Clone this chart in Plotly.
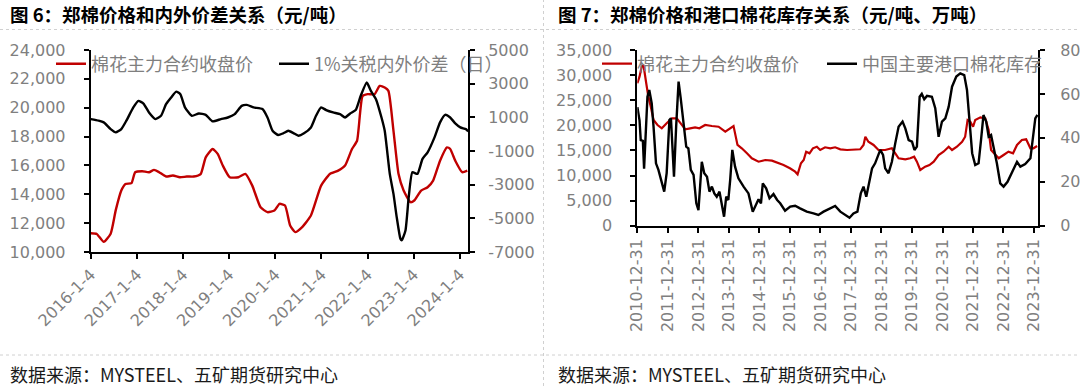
import plotly.graph_objects as go
import pandas as pd

# ---------------- 图6 data ----------------
price_years_6 = [2016.01, 2016.14, 2016.29, 2016.44, 2016.55, 2016.67, 2016.76, 2016.89, 2016.97, 2017.12,
                 2017.27, 2017.38, 2017.49, 2017.64, 2017.79, 2017.94, 2018.09, 2018.24, 2018.39, 2018.50,
                 2018.65, 2018.76, 2018.87, 2019.02, 2019.21, 2019.36, 2019.51, 2019.69, 2019.84, 2019.99,
                 2020.10, 2020.22, 2020.33, 2020.44, 2020.59, 2020.78, 2021.00, 2021.19, 2021.37, 2021.52,
                 2021.67, 2021.78, 2021.90, 2022.01, 2022.16, 2022.27, 2022.38, 2022.46, 2022.57, 2022.68,
                 2022.79, 2022.94, 2023.02, 2023.17, 2023.31, 2023.43, 2023.58, 2023.73, 2023.80, 2023.91,
                 2024.06, 2024.17]
price_6 = [11300, 11250, 10700, 11270, 12900, 14260, 14720, 14770, 15530, 15600,
           15530, 15690, 15530, 15230, 15300, 15180, 15230, 15230, 15400, 16560,
           17140, 16800, 15990, 15180, 15180, 15410, 14600, 13100, 12760, 12870,
           13340, 13220, 11840, 11380, 11730, 12530, 14600, 15410, 15640, 15990,
           17140, 17710, 20820, 20940, 20940, 21510, 21400, 21170, 18400, 15400,
           14260, 13450, 13570, 14260, 14490, 14950, 16330, 17250, 17140, 16330,
           15530, 15640]
spread_years_6 = [2016.01, 2016.18, 2016.29, 2016.44, 2016.55, 2016.67, 2016.78, 2016.93, 2017.04, 2017.15,
                  2017.27, 2017.41, 2017.53, 2017.64, 2017.75, 2017.86, 2017.95, 2018.05, 2018.20, 2018.35,
                  2018.50, 2018.65, 2018.83, 2018.98, 2019.13, 2019.28, 2019.39, 2019.54, 2019.73, 2019.84,
                  2019.95, 2020.07, 2020.18, 2020.29, 2020.40, 2020.51, 2020.63, 2020.78, 2020.89, 2021.00,
                  2021.11, 2021.26, 2021.41, 2021.52, 2021.63, 2021.75, 2021.86, 2021.99, 2022.08, 2022.19,
                  2022.31, 2022.38, 2022.49, 2022.57, 2022.64, 2022.72, 2022.75, 2022.83, 2022.90, 2022.98,
                  2023.09, 2023.20, 2023.31, 2023.46, 2023.58, 2023.69, 2023.80, 2023.91, 2024.02, 2024.14,
                  2024.19]
spread_6 = [895, 800, 700, 300, 105, 300, 800, 1590, 1980, 1820,
            1290, 895, 1090, 1780, 2180, 2530, 2370, 1590, 1090, 1230,
            1150, 760, 895, 990, 1190, 1680, 1740, 1590, 1490, 990,
            200, -50, 50, 200, 65, -90, 50, 400, 1090, 1590,
            1430, 1290, 1190, 990, 1230, 1430, 2280, 3070, 2570, 2080,
            990, 200, -2360, -3550, -4930, -6210, -6310, -5720, -3740, -2260,
            -2360, -1470, -1080, -190, 700, 1150, 990, 640, 400, 300,
            170]
xticks_6 = ["2016-01-04", "2017-01-04", "2018-01-04", "2019-01-04", "2020-01-04",
            "2021-01-04", "2022-01-04", "2023-01-04", "2024-01-04"]
xticktext_6 = ["2016-1-4", "2017-1-4", "2018-1-4", "2019-1-4", "2020-1-4",
               "2021-1-4", "2022-1-4", "2023-1-4", "2024-1-4"]
xrange_6 = ["2016-01-04", "2024-03-09"]
yticks_6 = [10000, 12000, 14000, 16000, 18000, 20000, 22000, 24000]
y2ticks_6 = [-7000, -5000, -3000, -1000, 1000, 3000, 5000]

# ---------------- 图7 data ----------------
price_years_7 = [2011.00, 2011.07, 2011.14, 2011.20, 2011.29, 2011.36, 2011.44, 2011.53, 2011.66, 2011.80,
                 2011.96, 2012.13, 2012.29, 2012.42, 2012.57, 2012.73, 2012.89, 2013.03, 2013.22, 2013.44,
                 2013.66, 2013.88, 2014.04, 2014.15, 2014.28, 2014.42, 2014.59, 2014.75, 2014.97, 2015.19,
                 2015.41, 2015.66, 2015.79, 2016.00, 2016.17, 2016.25, 2016.36, 2016.45, 2016.53, 2016.64,
                 2016.75, 2016.88, 2016.99, 2017.15, 2017.32, 2017.48, 2017.65, 2017.87, 2018.08, 2018.30,
                 2018.41, 2018.47, 2018.57, 2018.74, 2018.90, 2019.12, 2019.34, 2019.56, 2019.78, 2019.94,
                 2020.07, 2020.16, 2020.27, 2020.43, 2020.57, 2020.71, 2020.87, 2021.03, 2021.20, 2021.31,
                 2021.47, 2021.64, 2021.74, 2021.82, 2021.91, 2022.00, 2022.07, 2022.24, 2022.40, 2022.51,
                 2022.59, 2022.70, 2022.84, 2023.00, 2023.16, 2023.31, 2023.44, 2023.60, 2023.74, 2023.88,
                 2023.98, 2024.10]
price_7 = [28370, 29680, 31670, 32010, 28370, 25700, 23710, 21060, 20060, 19400,
           20400, 21390, 21390, 20400, 19200, 19400, 19600, 19400, 20060, 19860,
           19720, 18730, 19400, 19860, 16080, 15420, 14420, 13430, 12750, 13090,
           12950, 12430, 12090, 11430, 10760, 10240, 12430, 13090, 14740, 14420,
           15420, 15740, 15080, 15620, 15420, 15620, 15220, 15080, 15220, 15220,
           16080, 17730, 16730, 16080, 15080, 15080, 15420, 13430, 13230, 13430,
           13750, 12750, 11100, 11760, 12090, 12750, 14080, 14740, 15740, 15080,
           15740, 16730, 17730, 21060, 20720, 19720, 21060, 21590, 21390, 19060,
           15080, 14420, 13430, 14080, 14740, 14420, 16080, 17070, 17210, 15420,
           15420, 15880]
stock_years_7 = [2011.00, 2011.07, 2011.11, 2011.18, 2011.22, 2011.29, 2011.33, 2011.39, 2011.47, 2011.53,
                 2011.61, 2011.69, 2011.80, 2011.88, 2011.96, 2012.05, 2012.10, 2012.16, 2012.20, 2012.27,
                 2012.35, 2012.42, 2012.51, 2012.60, 2012.67, 2012.75, 2012.84, 2012.93, 2013.00, 2013.06,
                 2013.11, 2013.19, 2013.28, 2013.36, 2013.44, 2013.52, 2013.60, 2013.69, 2013.77, 2013.84,
                 2013.91, 2013.98, 2014.04, 2014.11, 2014.20, 2014.31, 2014.48, 2014.64, 2014.78, 2014.86,
                 2014.97, 2015.05, 2015.11, 2015.22, 2015.33, 2015.46, 2015.58, 2015.68, 2015.84, 2016.01,
                 2016.17, 2016.33, 2016.55, 2016.77, 2016.93, 2017.10, 2017.32, 2017.48, 2017.65, 2017.81,
                 2017.95, 2018.08, 2018.21, 2018.32, 2018.41, 2018.50, 2018.57, 2018.69, 2018.79, 2018.96,
                 2019.05, 2019.12, 2019.23, 2019.34, 2019.45, 2019.56, 2019.69, 2019.78, 2019.89, 2020.00,
                 2020.08, 2020.16, 2020.25, 2020.32, 2020.40, 2020.49, 2020.65, 2020.76, 2020.87, 2020.98,
                 2021.09, 2021.20, 2021.31, 2021.45, 2021.58, 2021.71, 2021.80, 2021.89, 2021.97, 2022.07,
                 2022.18, 2022.26, 2022.34, 2022.43, 2022.51, 2022.59, 2022.67, 2022.78, 2022.89, 2023.00,
                 2023.13, 2023.27, 2023.38, 2023.44, 2023.55, 2023.71, 2023.88, 2023.96, 2024.04, 2024.11]
stock_7 = [54, 48, 39, 38.6, 26, 46.6, 58.7, 61.8, 55.7, 45,
           28.4, 25.4, 19.3, 15.5, 23.9, 48.1, 48.9, 31.4, 22.3, 45,
           65.6, 58, 46.6, 36, 35.2, 25.4, 23.1, 10.2, 7.1, 20.8,
           29.1, 23.9, 22.3, 15.5, 17.8, 14.7, 13.2, 15.5, 10.2, 4.1,
           13.2, 11.7, 20.8, 34.5, 26.9, 21.6, 17.8, 14.7, 6.4, 8.7,
           12, 10.2, 19.3, 17, 12.5, 14.4, 11.7, 10.2, 6.8, 8.7,
           9.1, 7.9, 6.4, 5.6, 4.9, 6.4, 7.9, 9.0, 6.4, 4.9,
           3.6, 5.6, 6.4, 14.7, 17.8, 13.2, 18.5, 26.1, 28.4, 34.5,
           32.2, 26.1, 23.9, 29.1, 37.5, 45.1, 47.4, 44.3, 39.0, 38.3,
           34.5, 36, 58.7, 60, 57.6, 59.1, 58.7, 53.5, 40.5, 47.4,
           48.9, 54.2, 63.3, 67.9, 69.4, 68.6, 61.8, 45.1, 33, 27.6,
           28.4, 39, 50.4, 47.4, 40.5, 41.3, 36, 28.4, 19.3, 17.8,
           20, 23.9, 27.2, 29.1, 26.9, 28.1, 30.7, 39, 48.9, 50.4]
xticks_7 = ["2010-12-31", "2011-12-31", "2012-12-31", "2013-12-31", "2014-12-31", "2015-12-31",
            "2016-12-31", "2017-12-31", "2018-12-31", "2019-12-31", "2020-12-31", "2021-12-31",
            "2022-12-31", "2023-12-31"]
xrange_7 = ["2010-12-31", "2024-02-17"]
yticks_7 = [0, 5000, 10000, 15000, 20000, 25000, 30000, 35000]
y2ticks_7 = [0, 20, 40, 60, 80]

title_6 = "图 6：郑棉价格和内外价差关系（元/吨）"
title_7 = "图 7：郑棉价格和港口棉花库存关系（元/吨、万吨）"
source_text = "数据来源：MYSTEEL、五矿期货研究中心"
name_price = "棉花主力合约收盘价"
name_spread = "1%关税内外价差（日）"
name_stock = "中国主要港口棉花库存"


def to_dates(years):
    out = []
    for y in years:
        base = int(y)
        start = pd.Timestamp(year=base, month=1, day=1)
        ndays = (pd.Timestamp(year=base + 1, month=1, day=1) - start).days
        out.append(start + pd.Timedelta(days=(y - base) * ndays))
    return out


W, H = 1080, 386
CJK = "Noto Sans CJK SC"
TICKFONT = dict(family="DejaVu Sans", size=16, color="#7f7f7f")
RED = "#C00000"


def px_x(p):
    return p / W


def px_y(p):
    return 1 - p / H


fig = go.Figure()
fig.add_trace(go.Scatter(x=to_dates(price_years_6), y=price_6, name=name_price, mode="lines",
                         line=dict(color=RED, width=2.4, shape="spline", smoothing=0.5),
                         xaxis="x", yaxis="y", legend="legend"))
fig.add_trace(go.Scatter(x=to_dates(spread_years_6), y=spread_6, name=name_spread, mode="lines",
                         line=dict(color="#000000", width=2.4, shape="spline", smoothing=0.5),
                         xaxis="x", yaxis="y2", legend="legend2"))
fig.add_trace(go.Scatter(x=to_dates(price_years_7), y=price_7, name=name_price, mode="lines",
                         line=dict(color=RED, width=2.2),
                         xaxis="x2", yaxis="y3", legend="legend3"))
fig.add_trace(go.Scatter(x=to_dates(stock_years_7), y=stock_7, name=name_stock, mode="lines",
                         line=dict(color="#000000", width=2.4),
                         xaxis="x2", yaxis="y4", legend="legend4"))

axis_common = dict(showline=True, linecolor="#000000", linewidth=2, ticks="outside", ticklen=5,
                   tickwidth=1.5, tickcolor="#000000", showgrid=False, zeroline=False,
                   tickfont=TICKFONT, automargin=False)

left_dom_x = [px_x(90.7), px_x(468)]
left_dom_y = [px_y(252), px_y(50)]
right_dom_x = [px_x(637.3), px_x(1038)]
right_dom_y = [px_y(225.7), px_y(50)]

fig.update_layout(
    width=W, height=H, autosize=False,
    margin=dict(l=0, r=0, t=0, b=0, pad=0),
    paper_bgcolor="white", plot_bgcolor="white",
    showlegend=True,
    xaxis=dict(domain=left_dom_x, anchor="y", type="date", range=xrange_6,
               tickmode="array", tickvals=xticks_6, ticktext=xticktext_6, tickangle=-45,
               **axis_common),
    yaxis=dict(domain=left_dom_y, anchor="x", range=[10000, 24000], tickmode="array",
               tickvals=yticks_6, ticktext=[f"{v:,}" for v in yticks_6], ticklabelstandoff=15,
               **axis_common),
    yaxis2=dict(domain=left_dom_y, anchor="x", overlaying="y", side="right", range=[-7000, 5000],
                tickmode="array", tickvals=y2ticks_6, ticktext=[str(v) for v in y2ticks_6],
                ticklabelstandoff=10, **axis_common),
    xaxis2=dict(domain=right_dom_x, anchor="y3", type="date", range=xrange_7,
                tickmode="array", tickvals=xticks_7, ticktext=xticks_7, tickangle=-90,
                **axis_common),
    yaxis3=dict(domain=right_dom_y, anchor="x2", range=[0, 35000], tickmode="array",
                tickvals=yticks_7, ticktext=[f"{v:,}" for v in yticks_7], ticklabelstandoff=15,
                **axis_common),
    yaxis4=dict(domain=right_dom_y, anchor="x2", overlaying="y3", side="right", range=[0, 80],
                tickmode="array", tickvals=y2ticks_7, ticktext=[str(v) for v in y2ticks_7],
                ticklabelstandoff=12, **axis_common),
)

leg_common = dict(xanchor="left", yanchor="middle", y=px_y(64), bgcolor="rgba(0,0,0,0)",
                  borderwidth=0, font=dict(family=CJK, size=18, color="#7f7f7f"))
fig.update_layout(
    legend=dict(x=px_x(51), **leg_common),
    legend2=dict(x=px_x(274), **leg_common),
    legend3=dict(x=px_x(597), **leg_common),
    legend4=dict(x=px_x(822), **leg_common),
)

anns = []
for text, xs in ((title_6, 7.6), (title_7, 555.5)):
    anns.append(dict(text=f"<b>{text}</b>", xref="paper", yref="paper", x=px_x(xs), y=px_y(13.5),
                     xanchor="left", yanchor="middle", showarrow=False,
                     font=dict(family=CJK, size=18.5, color="#000000")))
for xs in (7.6, 555.5):
    anns.append(dict(text=source_text, xref="paper", yref="paper", x=px_x(xs), y=px_y(373.5),
                     xanchor="left", yanchor="middle", showarrow=False,
                     font=dict(family=CJK, size=18, color="#1a1a1a")))
fig.update_layout(annotations=anns)

dot = dict(color="#d0d0d0", width=1, dash="dot")
fig.update_layout(shapes=[
    dict(type="line", xref="paper", yref="paper", x0=0, x1=1, y0=px_y(29.5), y1=px_y(29.5), line=dot),
    dict(type="line", xref="paper", yref="paper", x0=0, x1=1, y0=px_y(355), y1=px_y(355), line=dot),
    dict(type="line", xref="paper", yref="paper", x0=px_x(543.5), x1=px_x(543.5), y0=0, y1=1, line=dot),
])

fig.write_html("out.html", config={"displayModeBar": False},
               post_script="document.body.style.margin='0';")
